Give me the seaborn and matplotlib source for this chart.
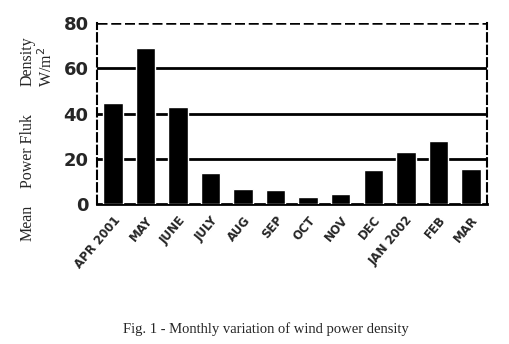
import matplotlib
matplotlib.use("Agg")
import matplotlib.pyplot as plt
import seaborn as sns
import pandas as pd

months = ["APR 2001", "MAY", "JUNE", "JULY", "AUG", "SEP", "OCT", "NOV", "DEC", "JAN 2002", "FEB", "MAR"]
power_density = [44.5, 69, 43, 13.5, 6.8, 6.3, 3.2, 4.5, 15, 23, 28, 15.5]
y_ticks = [0, 20, 40, 60, 80]

sns.set_theme(style="white")
plt.rcParams['font.family'] = ['DejaVu Sans']

df = pd.DataFrame({"month": months, "value": power_density})

fig = plt.figure(figsize=(5.1, 3.44), dpi=100)
ax = fig.add_axes([0.19, 0.407, 0.765, 0.526])
sns.barplot(data=df, x="month", y="value", color="black", width=0.6,
            saturation=1, ax=ax, zorder=3)

ax.set_ylim(0, 80)
ax.set_xlim(-0.5, len(months) - 0.5)
ax.set_yticks(y_ticks)
ax.set_yticklabels([str(t) for t in y_ticks], fontsize=13, fontweight="heavy")
ax.set_xticks(range(len(months)))
ax.set_xticklabels(months, rotation=50, ha="right", rotation_mode="anchor",
                   fontsize=8.5, fontweight="heavy")
ax.set_xlabel("")
ax.set_ylabel("")

for g in [20, 40, 60]:
    ax.axhline(g, color="black", lw=2, zorder=1)
ax.axhline(80, color="black", lw=1.8, ls=(0, (4, 1.5)), zorder=1)

for s in ["left", "right"]:
    ax.spines[s].set_linestyle((0, (4, 2)))
    ax.spines[s].set_linewidth(1.5)
    ax.spines[s].set_color("black")
ax.spines["top"].set_visible(False)
ax.spines["bottom"].set_linewidth(2)
ax.spines["bottom"].set_color("black")

ax.tick_params(axis="x", direction="out", length=4, width=1.5, color="black", pad=3)
ax.tick_params(axis="y", direction="inout", length=8, width=1.5, color="black", pad=2)

lab = dict(rotation=90, ha="center", va="center", family="Liberation Serif", fontsize=11.5)
fig.text(0.055, 0.823, "Density", **lab)
fig.text(0.055, 0.561, "Power Fluk", **lab)
fig.text(0.055, 0.352, "Mean", **lab)
fig.text(0.092, 0.805, "W/m$^2$", **lab)

fig.text(0.522, 0.042, "Fig. 1 - Monthly variation of wind power density",
         ha="center", va="center", family="Liberation Serif", fontsize=10.5)

fig.savefig("out.png", dpi=100, facecolor="white")
